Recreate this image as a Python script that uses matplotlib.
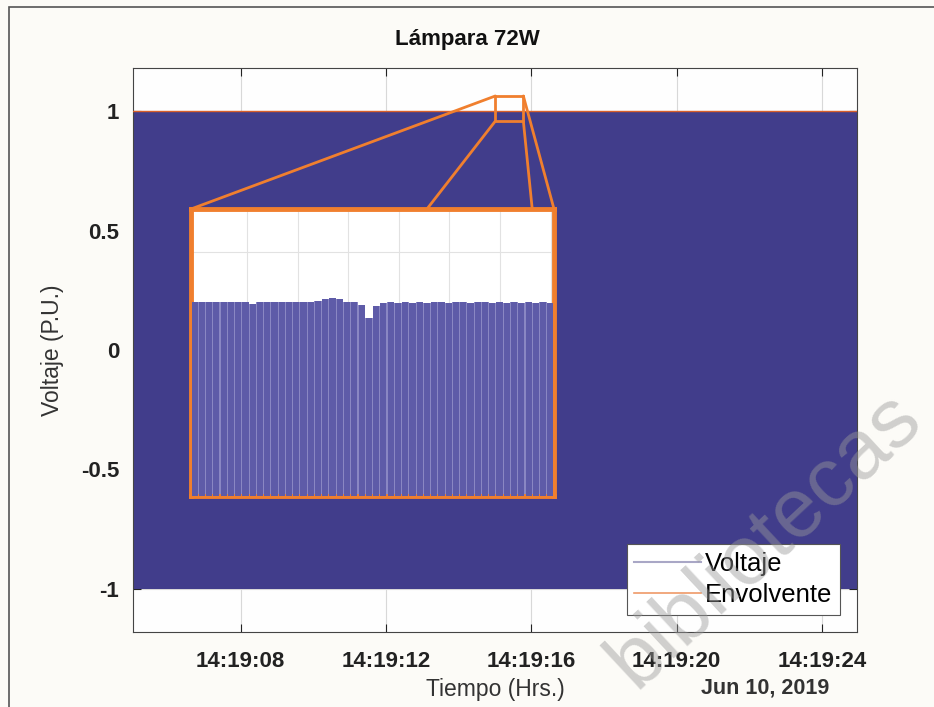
import datetime as dt
import matplotlib
matplotlib.use("Agg")
import matplotlib.pyplot as plt
import matplotlib.dates as mdates
from matplotlib.patches import Rectangle, ConnectionPatch
from matplotlib.lines import Line2D
import numpy as np

plt.rcParams["font.family"] = ["Liberation Sans", "DejaVu Sans"]

start = dt.datetime(2019, 6, 10, 14, 19, 0)

# seconds after 14:19:00
env_t = [5.04, 8.0, 12.0, 16.0, 20.0, 24.96]
env_top = [1.0, 1.0, 1.0, 1.0, 1.0, 1.0]
env_bottom = [-1.0, -1.0, -1.0, -1.0, -1.0, -1.0]

# zoomed window (seconds, P.U.)
zoom_t = [15.01, 15.78]
zoom_v = [0.958, 1.063]

# one peak per cycle inside the zoom
peaks = [1.0002, 1.0002, 1.0003, 1.0002, 1.0002, 1.0002, 1.0001, 1.0002,
         0.9998, 1.0002, 1.0001, 1.0002, 1.0002, 1.0001, 1.0002, 1.0003,
         1.0003, 1.0004, 1.0009, 1.0010, 1.0008, 1.0003, 1.0003, 0.9995,
         0.9968, 0.9994, 1.0000, 1.0001, 1.0000, 1.0002, 1.0000, 1.0001,
         1.0000, 1.0002, 1.0001, 1.0000, 1.0002, 1.0001, 1.0000, 1.0003,
         1.0001, 1.0000, 1.0002, 1.0000, 1.0001, 1.0000, 1.0001, 1.0000,
         1.0001, 1.0000]

xticks_s = [8, 12, 16, 20, 24]
yticks = [-1, -0.5, 0, 0.5, 1]
ytick_labels = ["-1", "-0.5", "0", "0.5", "1"]


def to_date(s):
    return start + dt.timedelta(seconds=s)


blue = "#413d8b"
orange = "#f07f2e"

fig = plt.figure(figsize=(9.34, 7.07), dpi=100)
fig.patch.set_facecolor("#fcfbf7")
ax = fig.add_axes([133 / 934, 75 / 707, 724 / 934, 564 / 707])
ax.set_facecolor("#fefefe")

times = [to_date(s) for s in env_t]
ax.fill_between(times, env_bottom, env_top, color=blue, lw=0, zorder=2)
ax.plot(times, env_top, color="#d9602a", lw=1.0, zorder=3)

ax.set_xlim(times[0], times[-1])
ax.set_ylim(-1.18, 1.18)
ax.set_xticks([to_date(s) for s in xticks_s])
ax.xaxis.set_major_formatter(mdates.DateFormatter("%H:%M:%S"))
ax.set_yticks(yticks)
ax.set_yticklabels(ytick_labels)
ax.tick_params(direction="in", top=True, right=True, length=6, width=0.8,
               labelsize=16, colors="#222222")
ax.tick_params(axis="x", pad=14)
ax.tick_params(axis="y", pad=10)
for lab in ax.get_xticklabels() + ax.get_yticklabels():
    lab.set_fontweight("bold")
ax.grid(True, color="#d8d8d8", lw=0.8)
ax.set_axisbelow(True)
for sp in ax.spines.values():
    sp.set_color("#444444")
    sp.set_linewidth(0.8)

ax.set_xlabel("Tiempo (Hrs.)", fontsize=16.5, color="#333333", labelpad=4)
ax.set_ylabel("Voltaje (P.U.)", fontsize=16.5, color="#333333", labelpad=12)
fig.text(765 / 934, 1 - 688 / 707, "Jun 10, 2019", fontsize=15.5, fontweight="bold",
         color="#333333", ha="center", va="center")
fig.text(0.5, 1 - 40 / 707, "Lámpara 72W", fontsize=16, fontweight="bold",
         color="#111111", ha="center", va="center")

handles = [Line2D([], [], color="#a9a7c6", lw=1.5),
           Line2D([], [], color="#ef9a68", lw=1.2)]
leg = ax.legend(handles, ["Voltaje", "Envolvente"], loc="lower right",
                bbox_to_anchor=(0.9765, 0.030), borderaxespad=0, fontsize=18.5,
                fancybox=False, framealpha=1, edgecolor="#555555",
                handlelength=2.6, handletextpad=0.15, labelspacing=0.3,
                borderpad=0.3)
leg.get_frame().set_linewidth(0.8)

# small rectangle marking the zoomed region
x0 = mdates.date2num(to_date(zoom_t[0]))
x1 = mdates.date2num(to_date(zoom_t[1]))
ax.add_patch(Rectangle((x0, zoom_v[0]), x1 - x0, zoom_v[1] - zoom_v[0],
                       fill=False, edgecolor=orange, lw=2, zorder=5,
                       clip_on=False))

# inset
ax_in = fig.add_axes([191 / 934, 211 / 707, 363 / 934, 287 / 707])
ax_in.set_facecolor("white")
n = len(peaks)
idx = np.arange(n)
base = 0.9
ax_in.bar(idx, np.array(peaks) - base, bottom=base, width=1.0,
          color="#8a87c3", lw=0, zorder=2)
ax_in.bar(idx, np.array(peaks) - base, bottom=base, width=0.85,
          color="#5e5ba8", lw=0, zorder=3)
ax_in.set_xlim(-0.5, n - 0.5)
ax_in.set_ylim(0.9589, 1.02)
ax_in.set_xticks(np.arange(7.2, n, 6.97))
ax_in.set_yticks([1.0108])
ax_in.grid(True, color="#e2e2e2", lw=0.8)
ax_in.set_axisbelow(True)
ax_in.tick_params(labelbottom=False, labelleft=False, length=0)
for sp in ax_in.spines.values():
    sp.set_color(orange)
    sp.set_linewidth(3.5)

# connector lines
for xa, ya, fx in [(x0, zoom_v[1], 0.0), (x0, zoom_v[0], 0.65),
                   (x1, zoom_v[0], 0.94), (x1, zoom_v[1], 1.0)]:
    con = ConnectionPatch(xyA=(xa, ya), coordsA=ax.transData,
                          xyB=(fx, 1.0), coordsB=ax_in.transAxes,
                          color=orange, lw=2)
    fig.add_artist(con)

# outer frame
fig.add_artist(Rectangle((9 / 934, -0.1), 1.2, 1.1 - 7 / 707, transform=fig.transFigure,
                         fill=False, edgecolor="#555555", lw=1.2))

# watermark
fig.text(765 / 934, 1 - 540 / 707, "bibliotecas", fontsize=60, color="#9a9a9a",
         alpha=0.45, rotation=43, ha="center", va="center", rotation_mode="anchor",
         zorder=20)

fig.savefig("out.png", dpi=100, facecolor=fig.get_facecolor())
